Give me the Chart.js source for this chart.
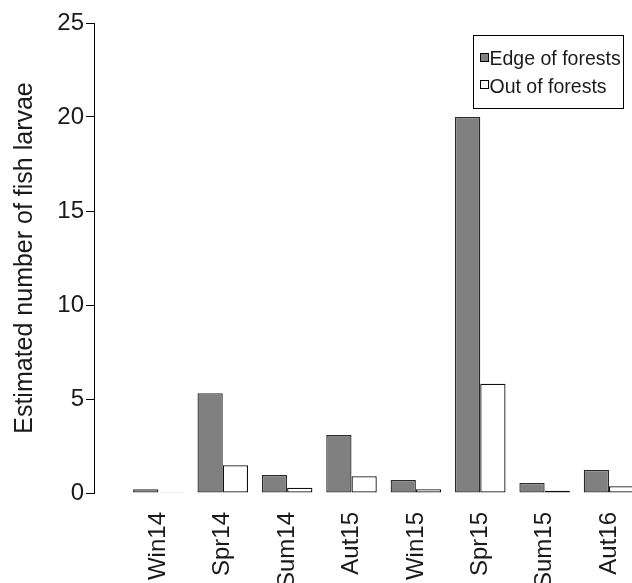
<!DOCTYPE html>
<html>
<head>
<meta charset="utf-8">
<script src="https://cdn.jsdelivr.net/npm/chart.js@4"></script>
<style>
  html, body { margin: 0; padding: 0; background: #fff; overflow: hidden; }
  #wrap { position: relative; width: 632px; height: 583px; }
  #legend {
    position: absolute; left: 473px; top: 35px; width: 151px; height: 74px;
    border: 1px solid #000; box-sizing: border-box;
    font-family: "Liberation Sans", Arial, sans-serif; font-size: 19.5px; color: #1a1a1a;
  }
  .sw { position: absolute; left: 6px; width: 9px; height: 9px; border: 1px solid #000; box-sizing: border-box; }
  .tx { position: absolute; left: 15.5px; height: 22px; line-height: 22px; white-space: nowrap; }
</style>
</head>
<body>
<div id="wrap">
  <canvas id="c" width="632" height="583"></canvas>
  <div id="legend"></div>
</div>
<script>
const categories = ["Win14", "Spr14", "Sum14", "Aut15", "Win15", "Spr15", "Sum15", "Aut16"];
const edgeValues = [0.20, 5.31, 0.96, 3.08, 0.69, 20.0, 0.53, 1.23];
const outValues  = [0.04, 1.48, 0.28, 0.89, 0.20, 5.81, 0.12, 0.36];
const seriesNames = ["Edge of forests", "Out of forests"];
const yTicks = [0, 5, 10, 15, 20, 25];

const FONT = "'Liberation Sans', Arial, sans-serif";

const toPoints = arr => arr.map((v, i) => ({ x: i, y: v }));

const ctx = document.getElementById('c').getContext('2d');
new Chart(ctx, {
  type: 'bar',
  data: {
    datasets: [
      { label: seriesNames[0], data: toPoints(edgeValues), backgroundColor: '#808080', borderColor: '#2a2a2a', borderWidth: 1.3, borderSkipped: false },
      { label: seriesNames[1], data: toPoints(outValues), backgroundColor: '#ffffff', borderColor: '#111111', borderWidth: 1.3, borderSkipped: false }
    ]
  },
  options: {
    responsive: false,
    animation: false,
    devicePixelRatio: 1,
    categoryPercentage: 0.785,
    barPercentage: 1.0,
    layout: { padding: { top: 23, right: 0, left: 0, bottom: 0 } },
    plugins: { legend: { display: false }, tooltip: { enabled: false } },
    scales: {
      x: {
        type: 'linear',
        min: -1.0,
        max: 7.357,
        offset: false,
        grid: { display: false },
        border: { display: false },
        afterBuildTicks: s => { s.ticks = categories.map((c, i) => ({ value: i })); },
        afterFit: s => { s.height = 90; s.paddingLeft = 0; s.paddingRight = 0; },
        ticks: {
          autoSkip: false,
          minRotation: 90, maxRotation: 90,
          padding: 11,
          color: '#1a1a1a',
          font: { family: FONT, size: 24 },
          callback: v => categories[v] !== undefined ? categories[v] : ''
        }
      },
      y: {
        min: 0, max: 25,
        afterBuildTicks: s => { s.ticks = yTicks.map(v => ({ value: v })); },
        afterFit: s => { s.width = 94; s.paddingTop = 0; s.paddingBottom = 0; },
        grid: { drawOnChartArea: false, drawTicks: true, tickLength: 8, color: '#000', lineWidth: 1 },
        border: { display: true, color: '#000', width: 1 },
        ticks: { padding: 2, color: '#1a1a1a', font: { family: FONT, size: 24 } },
        title: { display: true, text: 'Estimated number of fish larvae', color: '#1a1a1a', font: { family: FONT, size: 25 }, padding: { top: 10, bottom: 0 } }
      }
    }
  }
});

const legend = document.getElementById('legend');
const fills = ['#808080', '#ffffff'];
const rowTops = [11, 38.5];
seriesNames.forEach((n, i) => {
  const s = document.createElement('div');
  s.className = 'sw';
  s.style.background = fills[i];
  s.style.top = (rowTops[i] + 5.5) + 'px';
  legend.appendChild(s);
  const t = document.createElement('div');
  t.className = 'tx';
  t.style.top = rowTops[i] + 'px';
  t.textContent = n;
  legend.appendChild(t);
});
</script>
</body>
</html>
